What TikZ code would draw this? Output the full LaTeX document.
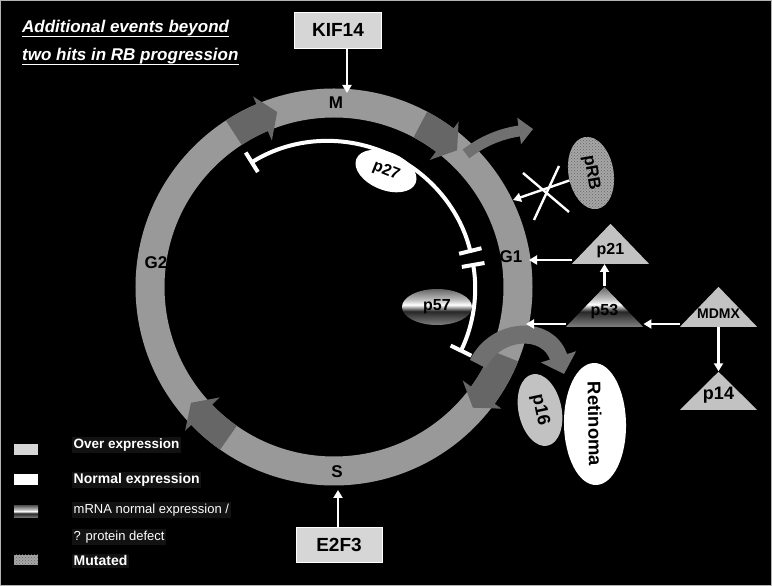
\documentclass[tikz,border=0pt]{standalone}
\usepackage{fontspec}
\setmainfont{Liberation Sans}
\usetikzlibrary{arrows.meta}
\usetikzlibrary{calc}
\usetikzlibrary{shapes.geometric}
\usetikzlibrary{patterns}

\definecolor{ringgray}{gray}{0.6}
\definecolor{blockgray}{gray}{0.4}
\definecolor{boxgray}{gray}{0.84}
\definecolor{trigray}{gray}{0.76}
\definecolor{bendgray}{gray}{0.44}
\definecolor{legback}{gray}{0.07}
\newcommand\fsz[1]{\fontsize{#1}{#1}\selectfont}

% grey - white - dark bands (mRNA normal / protein defect)
\pgfdeclareverticalshading{mrna}{100bp}{color(0bp)=(black!50); color(25bp)=(black!50); color(44bp)=(black!85); color(53bp)=(white); color(60bp)=(black!25); color(75bp)=(black!60); color(100bp)=(black!60)}

% dark block arrow on the ring: tail, head base, tip (degrees)
\newcommand\ringblock[3]{%
  \fill[blockgray] (#1:169.5) arc[start angle=#1, end angle=#2, radius=169.5] -- (#2:159) -- (#3:184) -- (#2:207) -- (#2:198.5) arc[start angle=#2, end angle=#1, radius=198.5] -- cycle;}

\begin{document}
\begin{tikzpicture}[x=1pt, y=1pt,
  ringlabel/.style={font=\fsz{17}\bfseries, text=black, inner sep=0pt},
  genebox/.style={draw=white, line width=0.8pt, fill=boxgray, minimum width=87pt, minimum height=36pt, font=\fsz{19}\bfseries},
  tri/.style={isosceles triangle, isosceles triangle stretches, shape border rotate=90, minimum width=77pt, minimum height=40pt, inner sep=0pt, anchor=lower side},
  plabel/.style={font=\fsz{16}\bfseries, inner sep=0pt},
  prot/.style={ellipse, inner sep=0pt, font=\fsz{16}\bfseries},
  mutated/.style={preaction={fill=gray!70}, pattern=crosshatch dots, pattern color=black!60},
  wharrow/.style={draw=white, line width=2.4pt, -{Triangle[width=9pt,length=8pt]}},
  inhib/.style={draw=white, line width=4pt, {Bar[width=23pt]}-{Bar[width=23pt]}},
  legbox/.style={minimum width=24pt, minimum height=11pt, inner sep=0pt},
  legtext/.style={anchor=west, text=white, fill=legback, inner sep=1.5pt}]
	\useasboundingbox (0,0) rectangle (772,586);
	\fill[black] (0,0) rectangle (772,586);
	\draw[gray!60, line width=1.2pt] (0.6,0.6) rectangle (771.4,585.4);

	% title
	\node[anchor=base west, inner sep=0pt, text=white, font=\fsz{17}\bfseries\itshape] (t1) at (22,553) {Additional events beyond};
	\node[anchor=base west, inner sep=0pt, text=white, font=\fsz{17}\bfseries\itshape] (t2) at (22,525) {two hits in RB progression};
	\foreach \t in {t1,t2}
		\draw[white, line width=1.3pt] ([yshift=-3.5pt]\t.base west) -- ([yshift=-3.5pt]\t.base east);

	% the cycle
	\begin{scope}[shift={(334,299)}]
		\draw[ringgray, line width=29pt] (0,0) circle[radius=184];
		\foreach \ta/\tb/\tc in {123/113/108, 62/53/48, 235/224/219, -22/-36/-41} {
			\ringblock{\ta}{\tb}{\tc}
		}
	\end{scope}
	\coordinate (bendA) at (533,457);
	\coordinate (bendB) at (564,212);
	\draw[bendgray, line width=11pt, -{Triangle[width=26pt,length=14pt]}] (466,432) .. controls (485,447) and (505,453) .. (bendA);
	\draw[bendgray, line width=18pt, -{Triangle[width=36pt,length=18pt]}] (478,222) .. controls (495,258) and (548,262) .. (bendB);

	\node[ringlabel] (lm) at (336,483) {M};
	\node[ringlabel] (ls) at (337,114) {S};
	\node[ringlabel] (lg1) at (511,329) {G1};
	\node[ringlabel] (lg2) at (156,323) {G2};

	% inhibition by p27 / p57
	\begin{scope}[shift={(328,298)}]
		\draw[inhib] (122:147) arc[start angle=122, end angle=13.8, radius=147];
		\draw[inhib] (9.8:147) arc[start angle=9.8, end angle=-26, radius=147];
	\end{scope}
	\node[prot, fill=white, minimum width=64pt, minimum height=38pt, rotate=-22] (p27) at (386,415) {p27};
	\node[prot, shading=mrna, minimum width=70pt, minimum height=36pt] (p57) at (437,279) {p57};

	% KIF14 and E2F3
	\node[genebox] (kif) at (338,556) {KIF14};
	\node[genebox, minimum height=35pt, minimum width=86pt] (e2f) at (339,41) {E2F3};
	\coordinate (kiftip) at (347,493);
	\coordinate (e2ftip) at (338,96);
	\draw[wharrow] (kif.south -| kiftip) -- (kiftip);
	\draw[wharrow] (e2f.north -| e2ftip) -- (e2ftip);

	% pRB
	\node[prot, mutated, minimum width=73pt, minimum height=45pt, rotate=-80, font=\fsz{17}\bfseries] (prb) at (591,413) {pRB};
	\coordinate (rbtip) at (513,386);
	\draw[wharrow] (prb) -- (rbtip);
	\draw[white, line width=2.4pt] (523,413) -- (569,374);
	\draw[white, line width=2.4pt] (559,420) -- (534,366);

	% p53 pathway
	\node[tri, fill=trigray] (p21) at (610.5,322) {};
	\node[tri, shading=mrna] (p53) at (604.5,259) {};
	\node[tri, fill=trigray] (mdmx) at (718.5,259) {};
	\node[tri, fill=trigray, minimum height=38pt] (p14) at (718.5,176) {};
	\node[plabel] at ($(p21.apex)!0.68!(p21.lower side)$) {p21};
	\node[plabel] at ($(p53.apex)!0.62!(p53.lower side)$) {p53};
	\node[plabel, font=\fsz{14}\bfseries] at ($(mdmx.apex)!0.68!(mdmx.lower side)$) {MDMX};
	\node[plabel, font=\fsz{18}\bfseries] at ($(p14.apex)!0.62!(p14.lower side)$) {p14};
	\coordinate (g1tip) at (529,326);
	\coordinate (p53tip) at (526,262);
	\draw[wharrow] ([yshift=4pt]p21.left corner) -- (g1tip);
	\draw[wharrow] (p53.apex) -- (p53.apex |- p21.lower side);
	\draw[wharrow] ([yshift=3pt]p53.left corner) -- (p53tip);
	\draw[wharrow] ([yshift=3pt]mdmx.left corner) -- ([yshift=3pt]p53.right corner);
	\draw[wharrow] (mdmx.lower side) -- (p14.apex);

	% p16 and Retinoma
	\node[prot, fill=trigray, minimum width=73pt, minimum height=43pt, rotate=-78, font=\fsz{18}\bfseries] (p16) at (540,176) {p16};
	\node[prot, fill=white, minimum width=122pt, minimum height=62pt, rotate=-89, font=\fsz{18.5}\bfseries] (retino) at (595,162) {Retinoma};

	% legend
	\node[legbox, fill=boxgray] (lover) at (26,136) {};
	\node[legbox, fill=white] (lnorm) at (26,106) {};
	\node[legbox, shading=mrna, minimum height=12pt] (lmrna) at (26,74) {};
	\node[legbox, mutated, minimum height=10pt] (lmut) at (26,26) {};
	\node[legtext, font=\fsz{13.5}\bfseries] (tover) at (72,141) {Over expression};
	\node[legtext, font=\fsz{14}\bfseries] (tnorm) at (72,106) {Normal expression};
	\node[legtext, font=\fsz{13}] (tmrna) at (72,76) {mRNA normal expression /};
	\node[legtext, font=\fsz{13}] (tdef) at (72,49) {? protein defect};
	\node[legtext, font=\fsz{14}\bfseries] (tmut) at (72,25) {Mutated};
\end{tikzpicture}
\end{document}
